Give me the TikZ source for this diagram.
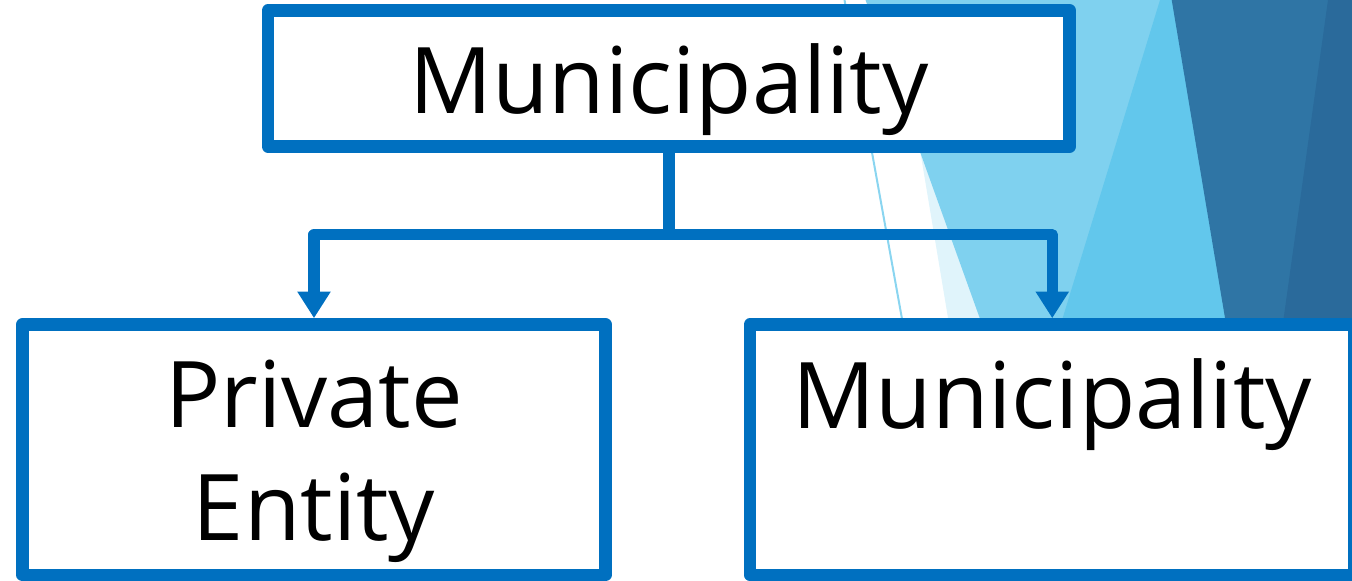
\documentclass[tikz,border=0pt]{standalone}
\usepackage{fontspec}
\setmainfont{Open Sans}
\usetikzlibrary{arrows.meta}
\definecolor{boxblue}{HTML}{0070C0}
\definecolor{paleblue}{HTML}{E0F4FB}
\definecolor{skyblue}{HTML}{7FD1EF}
\definecolor{midblue}{HTML}{62C7EC}
\definecolor{deepblue}{HTML}{2F75A5}
\definecolor{darkblue}{HTML}{2A6A9B}
\definecolor{rimblue}{HTML}{8AD5F0}
\tikzset{
  box/.style={draw=boxblue, line width=6.3pt, fill=white, line join=round,
    inner sep=0pt, align=center, text depth=0pt},
  conn/.style={boxblue, line width=5.6pt, line join=round,
    -{Triangle[width=15.8pt,length=13.3pt]}}
}

\begin{document}
\begin{tikzpicture}[x=0.5pt, y=-0.5pt, font=\fontsize{46}{56.5}\selectfont]
        \useasboundingbox (0,0) rectangle (1352,581);
        % Background facets
        \fill[paleblue] (895,0) -- (950,330) -- (1352,330) -- (1352,0) -- cycle;
        \fill[skyblue] (865.5,0) -- (984,330) -- (1352,330) -- (1352,0) -- cycle;
        \fill[midblue] (1160,0) -- (1059,330) -- (1352,330) -- (1352,0) -- cycle;
        \fill[deepblue] (1171.7,0) -- (1227,330) -- (1352,330) -- (1352,0) -- cycle;
        \fill[darkblue] (1328,0) -- (1282,330) -- (1352,330) -- (1352,0) -- cycle;
        \draw[rimblue, line width=1pt] (844.5,0) -- (904,330);
        % Boxes
        \node[box, minimum width=400.85pt, minimum height=68pt] (muni) at (668.9,78.5) {Municipality};
        \node[box, minimum width=291.5pt, minimum height=125.25pt] (private) at (314,449.75) {Private\\Entity};
        \node[box, minimum width=302.25pt, minimum height=125.25pt] (child) at (1052.25,449.75) {Municipality\\~};
        % Connectors
        \coordinate (fork) at ([yshift=-41pt]muni.south);
        \draw[conn] (muni.south) -- (fork) -| (private.north);
        \draw[conn] (fork) -| (child.north);
      \end{tikzpicture}
\end{document}
